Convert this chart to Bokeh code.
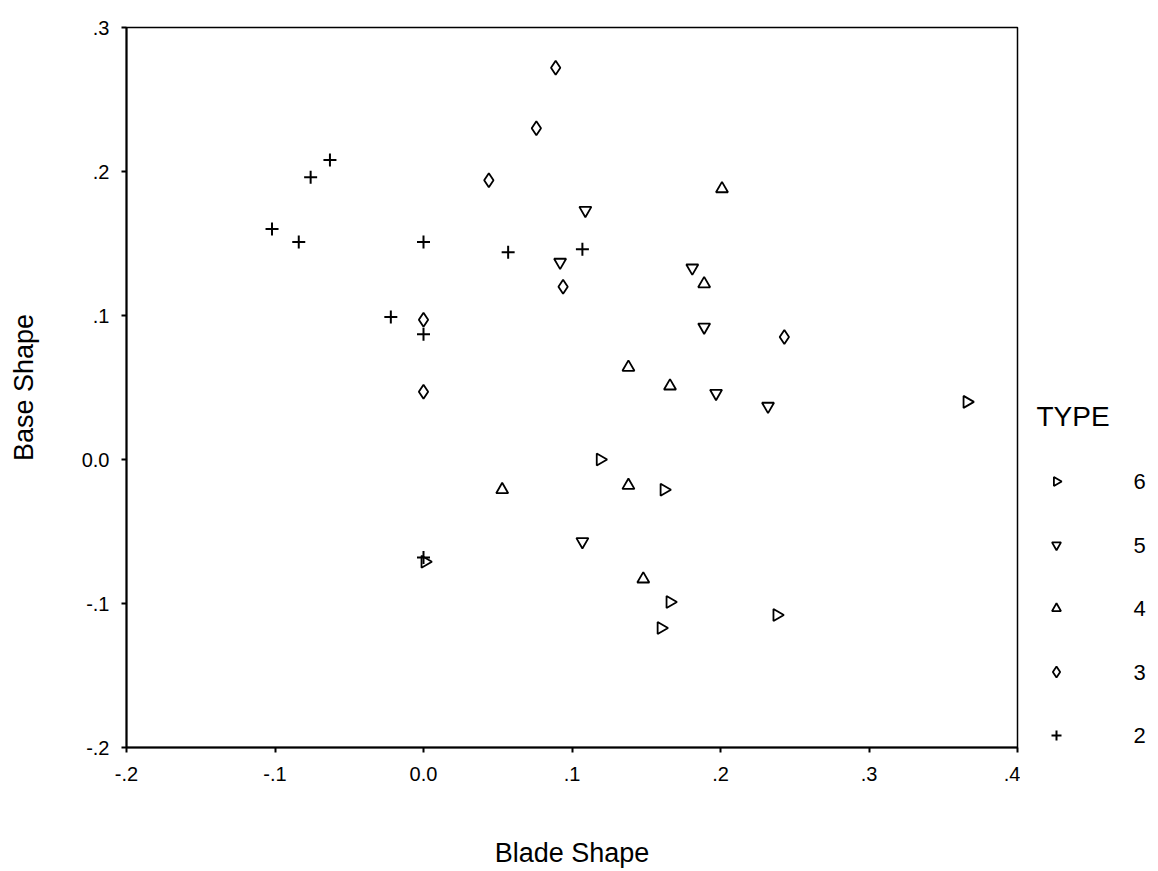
import numpy as np
from bokeh.plotting import figure
from bokeh.layouts import row
from bokeh.models import FixedTicker, Range1d
from bokeh.core.properties import value
from bokeh.embed import file_html
from bokeh.resources import INLINE

# ---- data ----
types = ["6", "5", "4", "3", "2"]

t2_x = [-0.063, -0.076, -0.102, -0.084, 0.000, 0.057, 0.107, -0.022, 0.000, 0.000]
t2_y = [0.208, 0.196, 0.160, 0.151, 0.151, 0.144, 0.146, 0.099, 0.087, -0.068]

t3_x = [0.089, 0.076, 0.044, 0.094, 0.000, 0.000, 0.243]
t3_y = [0.272, 0.230, 0.194, 0.120, 0.097, 0.047, 0.085]

t4_x = [0.201, 0.189, 0.138, 0.166, 0.053, 0.138, 0.148]
t4_y = [0.188, 0.122, 0.064, 0.051, -0.021, -0.018, -0.083]

t5_x = [0.109, 0.092, 0.181, 0.189, 0.197, 0.232, 0.107]
t5_y = [0.173, 0.137, 0.133, 0.092, 0.046, 0.037, -0.057]

t6_x = [0.366, 0.119, 0.162, 0.001, 0.166, 0.160, 0.238]
t6_y = [0.040, 0.000, -0.021, -0.071, -0.099, -0.117, -0.108]

x_ticks = [-0.2, -0.1, 0.0, 0.1, 0.2, 0.3, 0.4]
x_tick_labels = ["-.2", "-.1", "0.0", ".1", ".2", ".3", ".4"]
y_ticks = [-0.2, -0.1, 0.0, 0.1, 0.2, 0.3]
y_tick_labels = ["-.2", "-.1", "0.0", ".1", ".2", ".3"]

FONT = "Liberation Sans"

# marker styles per type (marker, angle, size)
marker_for = {
    "6": ("triangle", -np.pi / 2, 12),
    "5": ("inverted_triangle", 0.0, 12),
    "4": ("triangle", 0.0, 12),
    "3": ("diamond", 0.0, 14),
    "2": ("cross", 0.0, 13),
}
xs_for = {"6": t6_x, "5": t5_x, "4": t4_x, "3": t3_x, "2": t2_x}
ys_for = {"6": t6_y, "5": t5_y, "4": t4_y, "3": t3_y, "2": t2_y}

W, H = 1158, 871
MAIN_W = 1020
TOP, BOTTOM = 27, 124

p = figure(width=MAIN_W, height=H, output_backend="svg", toolbar_location=None,
           x_range=Range1d(-0.2, 0.4), y_range=Range1d(-0.2, 0.3),
           min_border_left=126, min_border_right=3, min_border_top=TOP,
           min_border_bottom=BOTTOM)
p.background_fill_color = "white"
p.border_fill_color = "white"
p.outline_line_color = "black"
p.outline_line_width = 1.5
p.xgrid.visible = False
p.ygrid.visible = False

for ax in (p.xaxis[0], p.yaxis[0]):
    ax.axis_line_color = "black"
    ax.axis_line_width = 2
    ax.major_tick_out = 5
    ax.major_tick_in = 0
    ax.major_tick_line_width = 2
    ax.minor_tick_line_color = None
    ax.major_label_text_font = FONT
    ax.major_label_text_font_size = "20px"
    ax.major_label_text_color = "black"
    ax.axis_label_text_font = FONT
    ax.axis_label_text_font_size = "27px"
    ax.axis_label_text_font_style = "normal"
    ax.axis_label_text_color = "black"

p.xaxis.ticker = FixedTicker(ticks=x_ticks)
p.xaxis.major_label_overrides = {t: l for t, l in zip(x_ticks, x_tick_labels)}
p.yaxis.ticker = FixedTicker(ticks=y_ticks)
p.yaxis.major_label_overrides = {t: l for t, l in zip(y_ticks, y_tick_labels)}
p.xaxis.axis_label = "Blade Shape"
p.yaxis.axis_label = "Base Shape"
p.xaxis.major_label_standoff = 14
p.xaxis.axis_label_standoff = 54
p.yaxis.major_label_standoff = 12
p.yaxis.axis_label_standoff = 40

for t in types:
    m, ang, sz = marker_for[t]
    if m == "cross":
        p.scatter(xs_for[t], ys_for[t], marker=m, size=sz,
                  line_color="black", line_width=2)
    else:
        p.scatter(xs_for[t], ys_for[t], marker=m, angle=ang, size=sz,
                  fill_color=None, line_color="black", line_width=1.8)

# ---- legend panel (separate small figure, page-pixel coordinates) ----
LW = W - MAIN_W
lg = figure(width=LW, height=H, output_backend="svg", toolbar_location=None,
            x_range=Range1d(MAIN_W, W), y_range=Range1d(H - BOTTOM, TOP),
            min_border_left=0, min_border_right=0, min_border_top=TOP,
            min_border_bottom=BOTTOM, x_axis_location=None, y_axis_location=None)
lg.outline_line_color = None
lg.xgrid.visible = False
lg.ygrid.visible = False
lg.background_fill_color = "white"
lg.border_fill_color = "white"

first_row, pitch = 481, 63.5
row_y = [first_row + i * pitch for i in range(len(types))]
for t, yy in zip(types, row_y):
    m, ang, sz = marker_for[t]
    if m == "cross":
        lg.scatter([1056], [yy], marker=m, size=sz - 3, line_color="black", line_width=2)
    else:
        lg.scatter([1056], [yy], marker=m, angle=ang, size=sz - 3,
                   fill_color=None, line_color="black", line_width=1.8)
lg.text(x=[1139] * len(types), y=row_y, text=types, text_align="center",
        text_baseline="middle", text_font=value(FONT), text_font_size="22px",
        text_color="black")
lg.text(x=[1036], y=[416], text=["TYPE"], text_align="left", text_baseline="middle",
        text_font=value(FONT), text_font_size="28px", text_color="black")

layout = row(p, lg, spacing=0)
open("out.html", "w").write(file_html(layout, INLINE))
